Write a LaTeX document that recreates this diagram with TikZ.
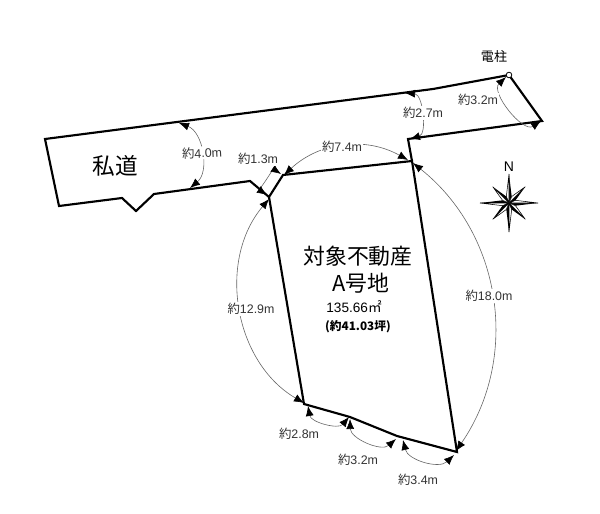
\documentclass[tikz,border=0pt]{standalone}
\usepackage{fontspec}
\setmainfont{Liberation Sans}
\newfontfamily\cjk{Noto Sans CJK JP}
\newcommand{\yaku}{{\cjk 約}}
\usetikzlibrary{arrows.meta, positioning, calc}

\tikzset{
    outline/.style={line width=1.6pt, line join=miter, black},
    dimline/.style={line width=0.45pt, black!60, {Latex[length=7.5pt,width=6pt,black]}-{Latex[length=7.5pt,width=6pt,black]}},
    dimtext/.style={font=\fontsize{9.3pt}{10pt}\selectfont, fill=white, inner sep=0.6pt, text=black!80},
}

\begin{document}
\begin{tikzpicture}[x=0.75pt, y=-0.75pt]
    \useasboundingbox (0,0) rectangle (600,514);

    % Corners of the road
    \coordinate (roadNW) at (45,139);
    \coordinate (roadSW) at (59,206);
    \coordinate (notchA) at (122,198);
    \coordinate (notchB) at (136,211);
    \coordinate (notchC) at (154,194);
    \coordinate (roadS) at (250,181);
    \coordinate (gateW) at (269,197);
    \coordinate (gateE) at (283,175);
    \coordinate (gateN) at (408,139);
    \coordinate (roadE) at (542,121);
    \coordinate (pole) at (509,75);
    \coordinate (kink) at (433,89);

    % Corners of the lot
    \coordinate (lotNE) at (412,161);
    \coordinate (lotSW) at (304,404);
    \coordinate (lotA) at (350,417);
    \coordinate (lotB) at (397,436);
    \coordinate (lotSE) at (457,452);

    % Outlines
    \draw[outline] (pole) -- (kink) -- (roadNW) -- (roadSW) -- (notchA) -- (notchB) -- (notchC) -- (roadS) -- (gateW);
    \draw[outline] (pole) -- (roadE) -- (gateN) -- (lotNE);
    \draw[outline] (gateW) -- (gateE) -- (lotNE) -- (lotSE) -- (lotB) -- (lotA) -- (lotSW) -- (gateW);
    \draw[line width=0.6pt, fill=white] (pole) circle (2.8);

    % Ends of the dimension arcs
    \coordinate (d40a) at (179,123);
    \coordinate (d40b) at (190,188);
    \coordinate (d13a) at (267,195);
    \coordinate (d13b) at (281,174);
    \coordinate (d74a) at (284,175);
    \coordinate (d74b) at (408,160);
    \coordinate (d27a) at (405,93);
    \coordinate (d27b) at (410,139);
    \coordinate (d32a) at (506,77);
    \coordinate (d32b) at (541,121);
    \coordinate (d180a) at (413,163);
    \coordinate (d180b) at (456,451);
    \coordinate (d129a) at (269,199);
    \coordinate (d129b) at (304,403);
    \coordinate (d28a) at (308,406);
    \coordinate (d28b) at (349,417);
    \coordinate (d32c) at (350,419);
    \coordinate (d32d) at (396,439);
    \coordinate (d34a) at (403,440);
    \coordinate (d34b) at (454,455);

    % Dimension arcs
    \draw[dimline] (d40a) to[bend left=60] (d40b);
    \draw[dimline] (d13a) to[bend left=90, looseness=0.9] (d13b);
    \draw[dimline] (d74a) to[bend left=36] (d74b);
    \draw[dimline] (d27a) to[bend left=80] (d27b);
    \draw[dimline] (d32a) to[bend right=85] (d32b);
    \draw[dimline] (d180a) to[bend left=43] (d180b);
    \draw[dimline] (d129a) to[bend right=50] (d129b);
    \draw[dimline] (d28a) to[bend right=65] (d28b);
    \draw[dimline] (d32c) to[bend right=65] (d32d);
    \draw[dimline] (d34a) to[bend right=60] (d34b);

    % Dimension labels
    \node[dimtext, rotate=3] (len40) at (202,153) {\yaku 4.0m};
    \node[dimtext] (len13) at (258,159) {\yaku 1.3m};
    \node[dimtext] (len74) at (342,147) {\yaku 7.4m};
    \node[dimtext] (len27) at (423,113) {\yaku 2.7m};
    \node[dimtext] (len32) at (478,100) {\yaku 3.2m};
    \node[dimtext] (len180) at (489,296) {\yaku 18.0m};
    \node[dimtext] (len129) at (251,309) {\yaku 12.9m};
    \node[dimtext] (len28) at (299,434) {\yaku 2.8m};
    \node[dimtext] (len32b) at (358,460) {\yaku 3.2m};
    \node[dimtext] (len34) at (418,480) {\yaku 3.4m};

    % Names
    \node[font=\cjk\fontsize{9.8pt}{11pt}\selectfont] (polename) at (494,57) {電柱};
    \node[font=\cjk\fontsize{17pt}{19pt}\selectfont] (road) at (115,166) {私道};
    \node[font=\cjk\fontsize{16.4pt}{18pt}\selectfont] (lot) at (358,256) {対象不動産};
    \node[font=\cjk\fontsize{16.4pt}{18pt}\selectfont] (lotname) at (361,283) {A号地};
    \node[font=\fontsize{10.2pt}{11pt}\selectfont] (area) at (354,307) {135.66{\cjk ㎡}};
    \node[font=\cjk\fontsize{8.8pt}{10pt}\bfseries\selectfont] (tsubo) at (358,327) {(約41.03坪)};

    % Compass
    \coordinate (compass) at (509,203);
    \foreach \ang/\rad in {0/29,90/29,180/29,270/29,45/23,135/23,225/23,315/23} {
        \fill[black] (compass) -- ($(compass)+(\ang:\rad)$) -- ($(compass)+(\ang+22.5:7)$) -- cycle;
        \draw[line width=0.4pt, fill=white] (compass) -- ($(compass)+(\ang:\rad)$) -- ($(compass)+(\ang-22.5:7)$) -- cycle;
    }
    \node[font=\fontsize{10.5pt}{11pt}\selectfont] (north) at (509,167) {N};
\end{tikzpicture}
\end{document}
